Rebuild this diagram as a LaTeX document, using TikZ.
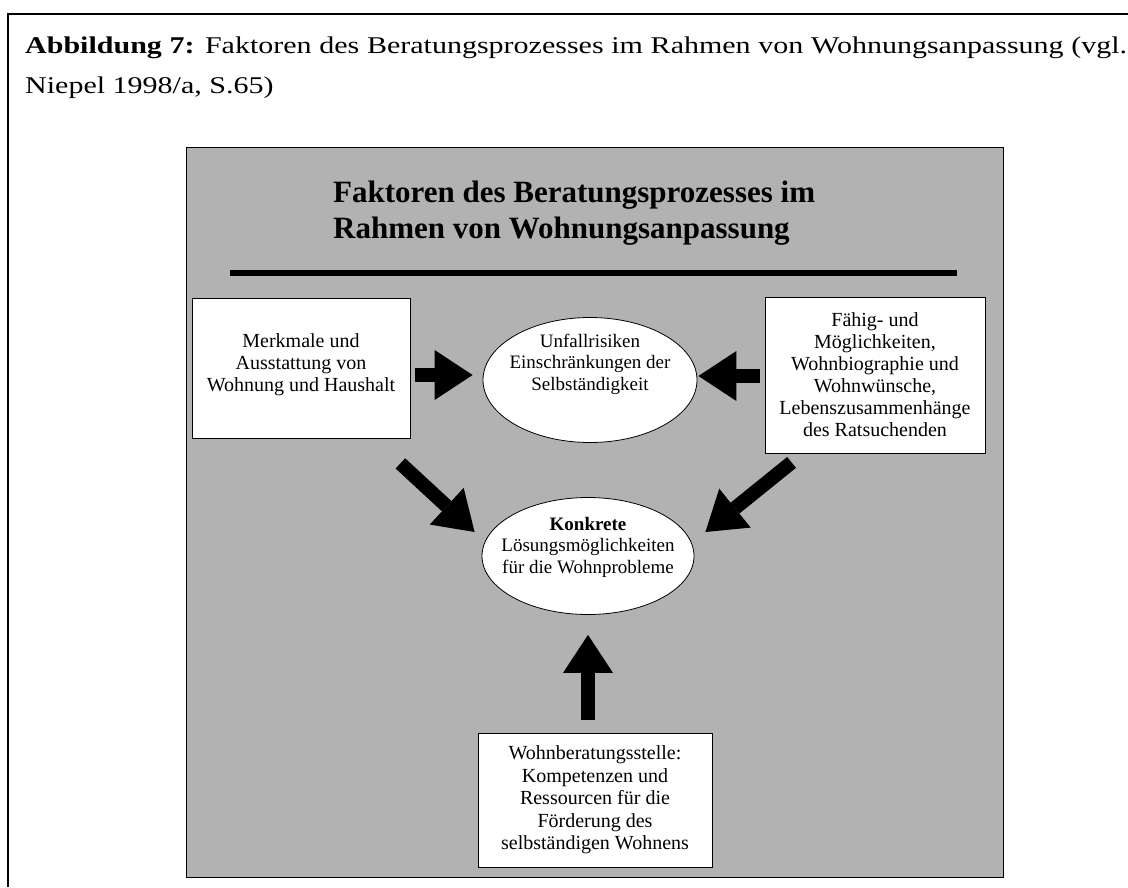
\documentclass[tikz,border=0pt]{standalone}
\usepackage{fontspec}
\setmainfont{Liberation Serif}
\newfontfamily\capfont[FakeStretch=1.25]{Liberation Serif}
\usetikzlibrary{arrows.meta}
\usetikzlibrary{shapes.geometric}

\begin{document}
\begin{tikzpicture}[
  x=1pt, y=-1pt,
  panel/.style={draw, line width=1pt, fill=black!30, minimum width=817pt, minimum height=730pt, inner sep=0pt},
  box/.style={draw, fill=white, line width=0.8pt, align=center, inner sep=0pt, font=\fontsize{20}{22}\selectfont},
  oval/.style={draw, ellipse, fill=white, line width=0.8pt, inner sep=0pt},
  ovaltext/.style={align=center, inner sep=0pt, font=\fontsize{19}{21.5}\selectfont},
  captext/.style={anchor=base west, inner sep=0pt, font=\capfont\fontsize{24}{24}\selectfont},
  bigarrow/.style={line width=14pt, -{Triangle[length=38pt 0 0, width=50pt 0 0, line width=0pt 0 0]}}
]
\useasboundingbox (0,0) rectangle (1128,887);

% frame and caption
\draw[line width=1.5pt] (8,887) -- (8,14) -- (1128,14);
\node[captext] (cap1) at (25,53) {\makebox[1102pt][s]{\textbf{Abbildung 7:} Faktoren des Beratungsprozesses im Rahmen von Wohnungsanpassung (vgl.}};
\node[captext] (cap2) at (25,93) {Niepel 1998/a, S.65)};

\node[panel] (panel) at (594.5,512) {};
\node[anchor=west, align=left, inner sep=0pt, font=\bfseries\fontsize{31}{36}\selectfont] (titel) at (333,213) {Faktoren des Beratungsprozesses im\\Rahmen von Wohnungsanpassung};
\draw[line width=6.5pt] (230,273) -- (957,273);

\node[box, minimum width=218pt, minimum height=140pt] (merk) at (301,368) {Merkmale und\\Ausstattung von\\Wohnung und Haushalt\\[-12pt]\mbox{}};
\node[box, minimum width=220pt, minimum height=156pt] (ratsu) at (875,375) {Fähig- und\\Möglichkeiten,\\Wohnbiographie und\\Wohnwünsche,\\Lebenszusammenhänge\\des Ratsuchenden};
\node[oval, minimum width=214pt, minimum height=125pt, label={[ovaltext, yshift=16pt]center:Unfallrisiken\\Einschränkungen der\\Selbständigkeit}] (unfall) at (590,380) {};
\node[oval, minimum width=212pt, minimum height=117pt, label={[ovaltext, yshift=9pt]center:\textbf{Konkrete}\\Lösungsmöglichkeiten\\für die Wohnprobleme}] (konkret) at (588,556) {};
\node[box, minimum width=234pt, minimum height=134pt, font=\fontsize{20}{22.5}\selectfont] (wohnb) at (595,800) {Wohnberatungsstelle:\\Kompetenzen und\\Ressourcen für die\\Förderung des\\selbständigen Wohnens};

\draw[bigarrow] ([shift={(5,7)}]merk.east) -- ([shift={(-10,-5)}]unfall.west);
\draw[bigarrow] ([shift={(-5,1)}]ratsu.west) -- ([shift={(1,-4)}]unfall.east);
\draw[bigarrow] ([shift={(-10,25)}]merk.south east) -- ([shift={(-7,-24)}]konkret.west);
\draw[bigarrow] ([shift={(27,9)}]ratsu.south west) -- ([shift={(11,-24)}]konkret.east);
\draw[bigarrow] ([shift={(0,-13)}]wohnb.north -| konkret.south) -- ([shift={(0,20)}]konkret.south);

\end{tikzpicture}
\end{document}
